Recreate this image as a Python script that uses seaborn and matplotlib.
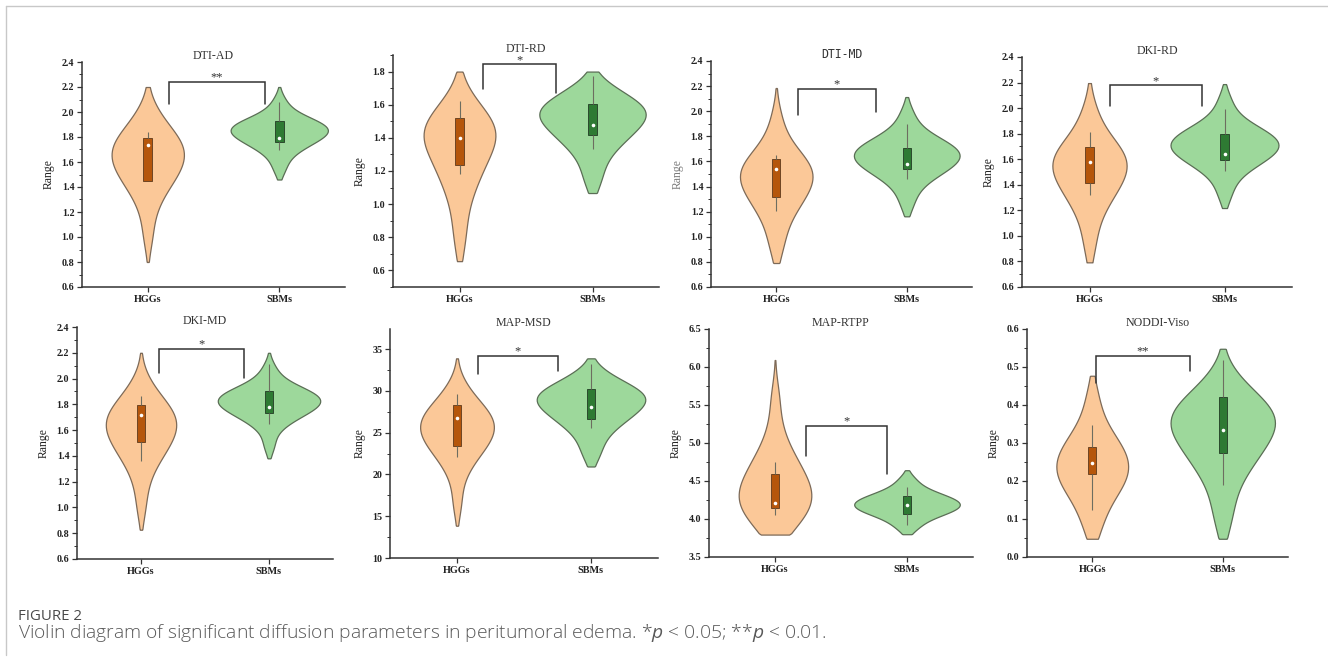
import numpy as np
import pandas as pd
import matplotlib
matplotlib.use("Agg")
import matplotlib.pyplot as plt
from matplotlib.lines import Line2D
import seaborn as sns

sns.set_style("ticks")
plt.rcParams["font.family"] = ["Liberation Serif", "DejaVu Serif"]
plt.rcParams["mathtext.fontset"] = "custom"
plt.rcParams["mathtext.it"] = "Open Sans:italic"
plt.rcParams["mathtext.rm"] = "Open Sans"

# ---------------- data ----------------
GROUPS = ["HGGs", "SBMs"]
TITLES = ["DTI-AD", "DTI-RD", "DTI-MD", "DKI-RD",
          "DKI-MD", "MAP-MSD", "MAP-RTPP", "NODDI-Viso"]
SIG_LABELS = ["**", "*", "*", "*", "*", "*", "*", "**"]

# violin samples (distribution shapes)
DTI_AD_HGG = [1.00, 1.190, 1.307, 1.374, 1.422, 1.463, 1.498, 1.530, 1.560, 1.590,
              1.617, 1.645, 1.668, 1.692, 1.717, 1.742, 1.769, 1.798, 1.833, 1.874,
              1.929, 2.028]
DTI_AD_SBM = [1.54, 1.627, 1.683, 1.715, 1.738, 1.758, 1.775, 1.790, 1.804, 1.819,
              1.832, 1.845, 1.855, 1.865, 1.876, 1.887, 1.898, 1.911, 1.926, 1.943,
              1.967, 2.009, 2.09]
DTI_RD_HGG = [0.76, 0.894, 1.021, 1.094, 1.146, 1.191, 1.229, 1.264, 1.296, 1.329,
              1.359, 1.389, 1.405, 1.422, 1.439, 1.457, 1.476, 1.496, 1.521, 1.550,
              1.589, 1.659]
DTI_RD_SBM = [1.13, 1.218, 1.297, 1.342, 1.375, 1.403, 1.426, 1.447, 1.468, 1.488,
              1.506, 1.525, 1.538, 1.550, 1.563, 1.577, 1.591, 1.607, 1.626, 1.647,
              1.678, 1.717]
DTI_MD_HGG = [0.90, 1.008, 1.125, 1.192, 1.240, 1.281, 1.316, 1.348, 1.378, 1.408,
              1.435, 1.463, 1.483, 1.504, 1.526, 1.548, 1.572, 1.597, 1.629, 1.664,
              1.713, 1.800, 1.95]
DTI_MD_SBM = [1.26, 1.372, 1.441, 1.481, 1.509, 1.534, 1.554, 1.573, 1.591, 1.608,
              1.625, 1.641, 1.655, 1.669, 1.684, 1.699, 1.715, 1.733, 1.754, 1.778,
              1.812, 1.871, 1.98]
DKI_RD_HGG = [0.90, 1.056, 1.178, 1.248, 1.298, 1.341, 1.377, 1.411, 1.442, 1.473,
              1.502, 1.531, 1.552, 1.573, 1.596, 1.619, 1.643, 1.669, 1.701, 1.738,
              1.788, 1.878, 2.00]
DKI_RD_SBM = [1.32, 1.437, 1.506, 1.546, 1.574, 1.599, 1.619, 1.638, 1.656, 1.673,
              1.690, 1.706, 1.720, 1.735, 1.750, 1.766, 1.783, 1.801, 1.822, 1.848,
              1.882, 1.944, 2.06]
DKI_MD_HGG = [1.00, 1.180, 1.295, 1.360, 1.408, 1.448, 1.482, 1.513, 1.543, 1.572,
              1.599, 1.626, 1.648, 1.669, 1.693, 1.716, 1.741, 1.768, 1.801, 1.838,
              1.891, 1.982]
DKI_MD_SBM = [1.48, 1.598, 1.655, 1.688, 1.711, 1.732, 1.748, 1.764, 1.779, 1.793,
              1.807, 1.820, 1.831, 1.841, 1.853, 1.864, 1.876, 1.890, 1.905, 1.924,
              1.949, 1.994, 2.08]
MAP_MSD_HGG = [16.5, 19.51, 21.06, 21.94, 22.58, 23.13, 23.58, 24.01, 24.41, 24.80,
               25.17, 25.53, 25.84, 26.17, 26.51, 26.86, 27.23, 27.62, 28.11, 28.66,
               29.43, 30.78]
MAP_MSD_SBM = [22.2, 23.64, 24.95, 25.69, 26.23, 26.69, 27.07, 27.43, 27.76, 28.10,
               28.40, 28.71, 28.93, 29.14, 29.37, 29.61, 29.85, 30.13, 30.45, 30.82,
               31.34, 32.26]
MAP_RTPP_HGG = [3.84, 3.887, 3.979, 4.047, 4.104, 4.152, 4.197, 4.239, 4.280, 4.319,
                4.357, 4.410, 4.463, 4.520, 4.582, 4.639, 4.705, 4.784, 4.876, 5.004,
                5.228, 5.60]
MAP_RTPP_SBM = [3.87, 3.937, 4.002, 4.039, 4.066, 4.089, 4.108, 4.126, 4.143, 4.159,
                4.175, 4.190, 4.205, 4.221, 4.237, 4.254, 4.272, 4.292, 4.314, 4.341,
                4.378, 4.443, 4.53]
NODDI_VISO_HGG = [0.070, 0.095, 0.132, 0.153, 0.168, 0.181, 0.192, 0.202, 0.211,
                  0.221, 0.229, 0.238, 0.247, 0.255, 0.265, 0.274, 0.284, 0.295, 0.308,
                  0.323, 0.344, 0.381, 0.43]
NODDI_VISO_SBM = [0.09, 0.145, 0.196, 0.225, 0.246, 0.264, 0.279, 0.293, 0.306,
                  0.319, 0.331, 0.343, 0.352, 0.359, 0.369, 0.377, 0.387, 0.397, 0.409,
                  0.423, 0.443, 0.477]

# observed range (lowest, highest value) of each group
RANGE_DTI_AD = [(0.80, 2.20), (1.46, 2.20)]
RANGE_DTI_RD = [(0.656, 1.80), (1.067, 1.80)]
RANGE_DTI_MD = [(0.791, 2.185), (1.163, 2.113)]
RANGE_DKI_RD = [(0.793, 2.196), (1.218, 2.188)]
RANGE_DKI_MD = [(0.827, 2.20), (1.381, 2.20)]
RANGE_MAP_MSD = [(13.86, 33.89), (20.95, 33.89)]
RANGE_MAP_RTPP = [(3.795, 6.092), (3.80, 4.642)]
RANGE_NODDI_VISO = [(0.048, 0.477), (0.048, 0.548)]

# inner box statistics: lower whisker, Q1, median, Q3, upper whisker
BOX_DTI_AD_HGG = [1.445, 1.445, 1.74, 1.79, 1.84]
BOX_DTI_AD_SBM = [1.70, 1.76, 1.79, 1.925, 2.08]
BOX_DTI_RD_HGG = [1.184, 1.234, 1.40, 1.52, 1.62]
BOX_DTI_RD_SBM = [1.33, 1.417, 1.48, 1.606, 1.775]
BOX_DTI_MD_HGG = [1.205, 1.317, 1.537, 1.617, 1.654]
BOX_DTI_MD_SBM = [1.458, 1.537, 1.582, 1.707, 1.896]
BOX_DKI_RD_HGG = [1.323, 1.414, 1.578, 1.693, 1.81]
BOX_DKI_RD_SBM = [1.505, 1.596, 1.643, 1.797, 1.993]
BOX_DKI_MD_HGG = [1.363, 1.51, 1.72, 1.794, 1.864]
BOX_DKI_MD_SBM = [1.647, 1.735, 1.776, 1.905, 2.116]
BOX_MAP_MSD_HGG = [22.14, 23.45, 26.72, 28.27, 29.63]
BOX_MAP_MSD_SBM = [25.6, 26.6, 28.11, 30.26, 33.2]
BOX_MAP_RTPP_HGG = [4.05, 4.15, 4.212, 4.59, 4.752]
BOX_MAP_RTPP_SBM = [3.92, 4.07, 4.19, 4.30, 4.42]
BOX_NODDI_VISO_HGG = [0.125, 0.219, 0.248, 0.290, 0.348]
BOX_NODDI_VISO_SBM = [0.189, 0.273, 0.333, 0.422, 0.519]

YTICKS_DIFF = [0.6, 0.8, 1.0, 1.2, 1.4, 1.6, 1.8, 2.0, 2.2, 2.4]
YTICKS_RD = [0.6, 0.8, 1.0, 1.2, 1.4, 1.6, 1.8]
YTICKS_MSD = [10, 15, 20, 25, 30, 35]
YTICKS_RTPP = [3.5, 4.0, 4.5, 5.0, 5.5, 6.0, 6.5]
YTICKS_VISO = [0.0, 0.1, 0.2, 0.3, 0.4, 0.5, 0.6]

SERIES = [(DTI_AD_HGG, DTI_AD_SBM), (DTI_RD_HGG, DTI_RD_SBM),
          (DTI_MD_HGG, DTI_MD_SBM), (DKI_RD_HGG, DKI_RD_SBM),
          (DKI_MD_HGG, DKI_MD_SBM), (MAP_MSD_HGG, MAP_MSD_SBM),
          (MAP_RTPP_HGG, MAP_RTPP_SBM), (NODDI_VISO_HGG, NODDI_VISO_SBM)]
RANGES = [RANGE_DTI_AD, RANGE_DTI_RD, RANGE_DTI_MD, RANGE_DKI_RD,
          RANGE_DKI_MD, RANGE_MAP_MSD, RANGE_MAP_RTPP, RANGE_NODDI_VISO]
BOXES = [(BOX_DTI_AD_HGG, BOX_DTI_AD_SBM), (BOX_DTI_RD_HGG, BOX_DTI_RD_SBM),
         (BOX_DTI_MD_HGG, BOX_DTI_MD_SBM), (BOX_DKI_RD_HGG, BOX_DKI_RD_SBM),
         (BOX_DKI_MD_HGG, BOX_DKI_MD_SBM), (BOX_MAP_MSD_HGG, BOX_MAP_MSD_SBM),
         (BOX_MAP_RTPP_HGG, BOX_MAP_RTPP_SBM), (BOX_NODDI_VISO_HGG, BOX_NODDI_VISO_SBM)]
YTICKS = [YTICKS_DIFF, YTICKS_RD, YTICKS_DIFF, YTICKS_DIFF,
          YTICKS_DIFF, YTICKS_MSD, YTICKS_RTPP, YTICKS_VISO]

# ---------------- layout / style ----------------
W, H = 1328, 662
AX_PX = [(82, 62, 345, 287), (393, 55, 659, 287), (711, 61, 972, 287), (1022, 57, 1292, 287),
         (77, 327, 333, 559), (390, 329, 658, 558), (709, 329, 973, 557), (1027, 329, 1288, 557)]
YLIMS = [(0.6, 2.4), (0.5, 1.9), (0.6, 2.4), (0.6, 2.4),
         (0.6, 2.4), (10, 37.4), (3.5, 6.5), (0.0, 0.6)]
MINOR = [0.1, 0.1, 0.1, 0.1, 0.1, 2.5, 0.25, 0.05]
FMT = ["{:.1f}"] * 5 + ["{:.0f}", "{:.1f}", "{:.1f}"]
VWIDTH = [(0.55, 0.74), (0.54, 0.80), (0.556, 0.81), (0.55, 0.80),
          (0.55, 0.80), (0.55, 0.81), (0.55, 0.80), (0.55, 0.80)]
# bracket: x0, x1, top, left leg end, right leg end
BRACKETS = [(0.165, 0.89, 2.24, 2.064, 2.064), (0.176, 0.725, 1.844, 1.694, 1.67),
            (0.164, 0.767, 2.18, 1.973, 1.994), (0.149, 0.831, 2.178, 2.014, 2.014),
            (0.138, 0.804, 2.232, 2.044, 2.008), (0.154, 0.751, 34.16, 32.01, 32.41),
            (0.237, 0.846, 5.222, 4.827, 4.59), (0.028, 0.748, 0.530, 0.459, 0.49)]

FILL = {"HGGs": "#FBC898", "SBMs": "#9DD89B"}
EDGE = {"HGGs": "#7d6a58", "SBMs": "#5a6e55"}
BOXC = {"HGGs": "#B5560B", "SBMs": "#2E7A33"}
BOXE = {"HGGs": "#6e4523", "SBMs": "#2b4a2d"}
AXC = "#333333"

fig = plt.figure(figsize=(W / 100, H / 100), dpi=100)


def rect(x0, y0, x1, y1):
    return [x0 / W, 1 - y1 / H, (x1 - x0) / W, (y1 - y0) / H]


for i in range(8):
    ax = fig.add_axes(rect(*AX_PX[i]))
    for g, vals, (lo, hi), bx, w in zip(GROUPS, SERIES[i], RANGES[i], BOXES[i], VWIDTH[i]):
        n_before = len(ax.collections)
        sns.violinplot(x=[g] * len(vals), y=vals, order=GROUPS, cut=4, inner=None,
                       density_norm="width", width=w, color=FILL[g],
                       linecolor=EDGE[g], linewidth=0.9, saturation=1, ax=ax)
        # trim the violin to the observed range of the group
        for coll in ax.collections[n_before:]:
            verts = []
            for p in coll.get_paths():
                v = np.array(p.vertices, dtype=float)
                v[:, 1] = np.clip(v[:, 1], lo, hi)
                verts.append(v)
            coll.set_verts(verts)
        sns.boxplot(x=[g] * len(bx), y=bx, order=GROUPS, width=0.065, whis=(0, 100),
                    showfliers=False, showcaps=False, color=BOXC[g],
                    linecolor=BOXE[g], linewidth=0.7, saturation=1,
                    medianprops={"visible": False},
                    whiskerprops={"color": "#6d6d60", "linewidth": 0.8},
                    ax=ax)
    hb, sb = BOXES[i]
    dfb = pd.DataFrame({"group": ["HGGs"] * len(hb) + ["SBMs"] * len(sb),
                        "value": list(hb) + list(sb)})
    sns.pointplot(data=dfb, x="group", y="value", order=GROUPS, estimator="median",
                  errorbar=None, color="white", markers="o", linestyles="none",
                  markersize=2.6, markeredgewidth=0, ax=ax)

    ax.set_xlim(-0.5, 1.5)
    ax.set_ylim(*YLIMS[i])
    ax.set_yticks(YTICKS[i])
    ax.set_yticklabels([FMT[i].format(t) for t in YTICKS[i]], fontweight="bold", fontsize=7.2)
    ax.yaxis.set_minor_locator(matplotlib.ticker.MultipleLocator(MINOR[i]))
    ax.set_xticks([0, 1])
    ax.set_xticklabels(GROUPS, fontweight="bold", fontsize=7.4)
    ax.set_xlabel("")
    ylab_color = "#7a7a7a" if TITLES[i] == "DTI-MD" else "#222222"
    ax.set_ylabel("Range", fontsize=8.4, color=ylab_color, labelpad=5)
    if TITLES[i] == "DTI-MD":
        ax.set_title(TITLES[i], fontsize=8.3, pad=2.5,
                     family=["Liberation Sans Narrow", "DejaVu Sans Mono"], color="#333333")
    else:
        ax.set_title(TITLES[i], fontsize=8.6, pad=2.5, color="#333333")
    for s in ("top", "right"):
        ax.spines[s].set_visible(False)
    for s in ("left", "bottom"):
        ax.spines[s].set_color(AXC)
        ax.spines[s].set_linewidth(1.1)
    ax.tick_params(axis="both", which="major", direction="out", length=3.5, width=0.9,
                   color=AXC, pad=2, labelcolor="#222222")
    ax.tick_params(axis="y", which="minor", direction="out", length=2, width=0.7, color=AXC)
    ax.tick_params(axis="x", which="minor", bottom=False)

    x0, x1, yt, yl, yr = BRACKETS[i]
    ax.plot([x0, x0, x1, x1], [yl, yt, yt, yr], color="#333333", lw=1.1,
            solid_joinstyle="miter", clip_on=False)
    ax.annotate(SIG_LABELS[i], xy=((x0 + x1) / 2, yt), xytext=(0, -1.2),
                textcoords="offset points", ha="center", va="bottom",
                fontsize=9, color="#333333")

# frame lines of the figure page
fig.add_artist(Line2D([5.5 / W, 1.0], [1 - 6 / H, 1 - 6 / H], color="#c8c8c8", lw=1.0,
                      transform=fig.transFigure))
fig.add_artist(Line2D([5.5 / W, 5.5 / W], [1 - 6 / H, 1 - 655 / H], color="#c8c8c8", lw=1.0,
                      transform=fig.transFigure))

fig.text(18 / W, 1 - 620 / H, "FIGURE 2", family=["Open Sans", "DejaVu Sans"],
         fontsize=10.8, color="#4a4a4a", va="baseline", ha="left")
fig.text(18 / W, 1 - 638.5 / H,
         "Violin diagram of significant diffusion parameters in peritumoral edema. "
         "*$p$ < 0.05; **$p$ < 0.01.",
         family=["Open Sans", "DejaVu Sans"], fontweight="light",
         fontsize=13.9, color="#5a5a5a", va="baseline", ha="left")

fig.savefig("out.png", dpi=100)
